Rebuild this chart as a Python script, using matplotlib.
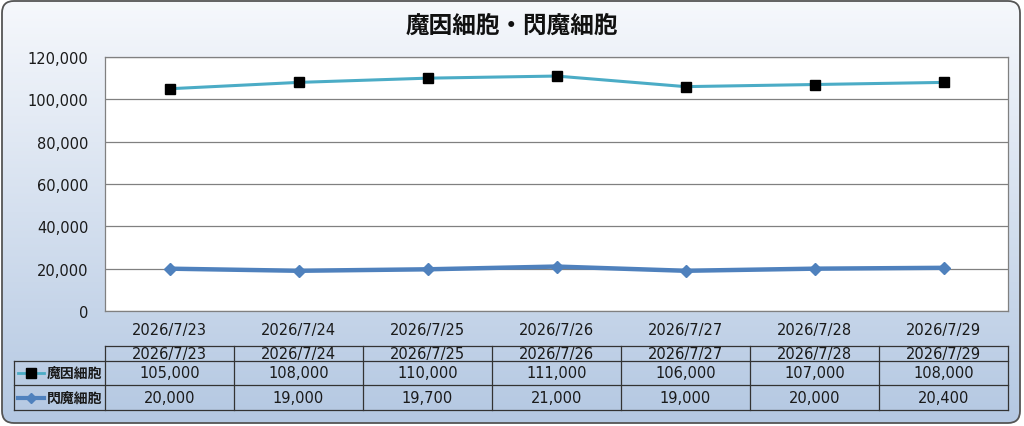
import matplotlib
matplotlib.use("Agg")
import matplotlib.pyplot as plt
import numpy as np
from matplotlib.patches import FancyBboxPatch
from matplotlib.ticker import FuncFormatter

plt.rcParams['font.family'] = ['DejaVu Sans', 'Noto Sans CJK JP']

title = "魔因細胞・閃魔細胞"
dates = ["2026/7/23", "2026/7/24", "2026/7/25", "2026/7/26", "2026/7/27", "2026/7/28", "2026/7/29"]
series_names = ["魔因細胞", "閃魔細胞"]
s1 = [105000, 108000, 110000, 111000, 106000, 107000, 108000]
s2 = [20000, 19000, 19700, 21000, 19000, 20000, 20400]
yticks = [0, 20000, 40000, 60000, 80000, 100000, 120000]

W, H = 1024, 427
fig = plt.figure(figsize=(W / 100, H / 100), dpi=100)
FS = 10.5
TC = '#1a1a1a'

# background gradient within rounded box
bg = fig.add_axes([0, 0, 1, 1])
bg.set_xlim(0, W)
bg.set_ylim(H, 0)
bg.axis('off')
grad = np.linspace(0, 1, 256).reshape(-1, 1)
top = np.array([0xF6, 0xF8, 0xFC]) / 255
bot = np.array([0xB4, 0xC8, 0xE2]) / 255
img = top[None, None, :] * (1 - grad[:, :, None]) + bot[None, None, :] * grad[:, :, None]
im = bg.imshow(img, extent=[2, 1020, 424, 2], aspect='auto', zorder=0)
box = FancyBboxPatch((2, 2), 1018, 422, boxstyle="round,pad=0,rounding_size=12",
                     fc='none', ec='#555555', lw=1.3, zorder=2)
bg.add_patch(box)
im.set_clip_path(box)
bg.text(512, 26, title, ha='center', va='center', fontsize=17, fontweight='bold',
        color='#111111', family=['Noto Sans CJK JP', 'DejaVu Sans'])

# main plot
x0, x1, yt, yb = 105, 1008, 58, 312
ax = fig.add_axes([x0 / W, 1 - yb / H, (x1 - x0) / W, (yb - yt) / H])
ax.set_facecolor('white')
x = np.arange(len(dates))
ax.set_xlim(-0.5, len(dates) - 0.5)
ax.set_ylim(0, 120000)
ax.set_yticks(yticks)
ax.yaxis.set_major_formatter(FuncFormatter(lambda v, p: f"{int(v):,}"))
ax.grid(axis='y', color='#808080', lw=0.9)
ax.set_axisbelow(True)
ax.set_xticks(x)
ax.set_xticklabels(dates)
ax.tick_params(axis='both', length=0, labelsize=FS, colors=TC)
ax.tick_params(axis='x', pad=8)
ax.tick_params(axis='y', pad=12)
for sp in ax.spines.values():
    sp.set_color('#808080')
    sp.set_linewidth(0.9)

ax.plot(x, s1, color='#4BACC6', lw=2.2, marker='s', ms=7.5, mfc='black', mec='black', zorder=3)
ax.plot(x, s2, color='#4F81BD', lw=3.2, marker='D', ms=6, mfc='#4F81BD', mec='#4F81BD', zorder=3)

# data table
tab = fig.add_axes([0, 0, 1, 1], facecolor='none')
tab.set_xlim(0, W)
tab.set_ylim(H, 0)
tab.axis('off')
col_w = (x1 - x0) / len(dates)
rows_y = [347, 362, 386, 411]
lc = '#333333'
lw = 0.9
tab.plot([x0, x1], [rows_y[0]] * 2, color=lc, lw=lw)
for yy in rows_y[1:]:
    tab.plot([14, x1], [yy] * 2, color=lc, lw=lw)
tab.plot([14, 14], [rows_y[1], rows_y[3]], color=lc, lw=lw)
for i in range(len(dates) + 1):
    xx = x0 + i * col_w
    tab.plot([xx, xx], [rows_y[0], rows_y[3]], color=lc, lw=lw)
for i, d in enumerate(dates):
    cx = x0 + (i + 0.5) * col_w
    tab.text(cx, (rows_y[0] + rows_y[1]) / 2 + 0.5, d, ha='center', va='center', fontsize=FS, color=TC)
    tab.text(cx, (rows_y[1] + rows_y[2]) / 2, f"{s1[i]:,}", ha='center', va='center', fontsize=FS, color=TC)
    tab.text(cx, (rows_y[2] + rows_y[3]) / 2, f"{s2[i]:,}", ha='center', va='center', fontsize=FS, color=TC)
ym1 = (rows_y[1] + rows_y[2]) / 2
ym2 = (rows_y[2] + rows_y[3]) / 2
tab.plot([18, 44], [ym1, ym1], color='#4BACC6', lw=2)
tab.plot([31], [ym1], marker='s', ms=6.5, color='black')
tab.plot([18, 44], [ym2, ym2], color='#4F81BD', lw=3)
tab.plot([31], [ym2], marker='D', ms=5, color='#4F81BD')
for yy, name in zip([ym1, ym2], series_names):
    tab.text(47, yy, name, ha='left', va='center', fontsize=10, fontweight='bold',
             color=TC, family=['Noto Sans CJK JP', 'DejaVu Sans'])

fig.savefig("out.png", dpi=100)
